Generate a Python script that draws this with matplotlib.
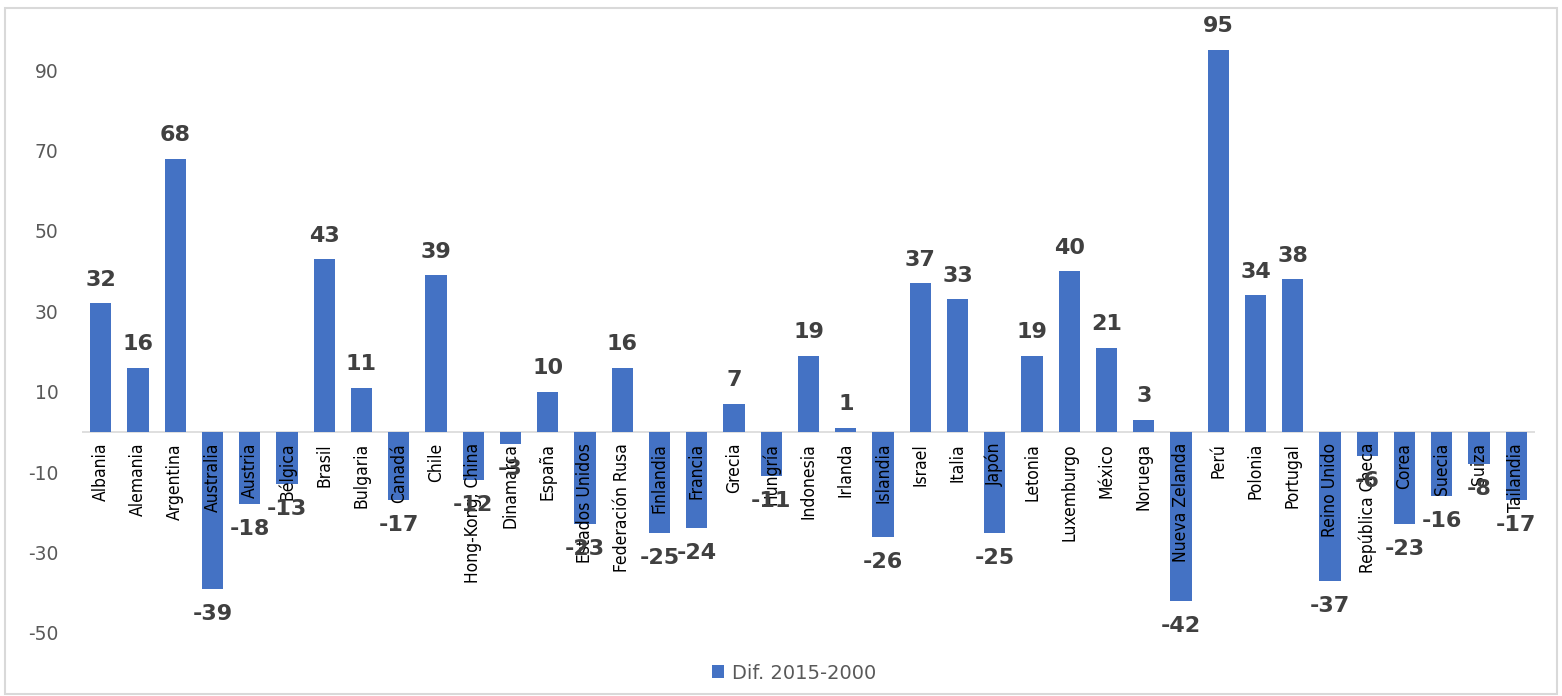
import matplotlib.pyplot as plt
import matplotlib.transforms as mtransforms
from matplotlib.patches import Rectangle
import numpy as np

paises = ['Albania', 'Alemania', 'Argentina', 'Australia', 'Austria', 'Bélgica',
          'Brasil', 'Bulgaria', 'Canadá', 'Chile', 'Hong-Kong, China', 'Dinamarca',
          'España', 'Estados Unidos', 'Federación Rusa', 'Finlandia', 'Francia',
          'Grecia', 'Hungría', 'Indonesia', 'Irlanda', 'Islandia', 'Israel', 'Italia',
          'Japón', 'Letonia', 'Luxemburgo', 'México', 'Noruega', 'Nueva Zelanda',
          'Perú', 'Polonia', 'Portugal', 'Reino Unido', 'República Checa', 'Corea',
          'Suecia', 'Suiza', 'Tailandia']
dif_2015_2000 = [32, 16, 68, -39, -18, -13, 43, 11, -17, 39, -12, -3, 10, -23, 16,
                 -25, -24, 7, -11, 19, 1, -26, 37, 33, -25, 19, 40, 21, 3, -42, 95,
                 34, 38, -37, -6, -23, -16, -8, -17]
y_ticks = [-50, -30, -10, 10, 30, 50, 70, 90]

BLUE = '#4472C4'
GRAY = '#595959'
DARK = '#404040'

fig = plt.figure(figsize=(15.62, 6.96), dpi=100)
ax = fig.add_axes([82 / 1562, 1 - 633 / 696, (1535 - 82) / 1562, (633 - 30) / 696])

x = np.arange(len(paises))
ax.bar(x, dif_2015_2000, width=0.57, color=BLUE, label='Dif. 2015-2000', zorder=2)
ax.axhline(0, color='#d9d9d9', lw=1.2, zorder=1)

ax.set_xlim(-0.5, len(paises) - 0.5)
ax.set_ylim(-50, 100)
ax.set_yticks(y_ticks)
ax.set_yticklabels([str(t) for t in y_ticks], color=GRAY, fontsize=13.5)
ax.tick_params(axis='y', length=0, pad=17)
ax.set_xticks([])
for s in ax.spines.values():
    s.set_visible(False)

# country names just under the zero line (condensed face)
off = mtransforms.offset_copy(ax.transData, fig=fig, x=0, y=-11, units='dots')
for xi, name in zip(x, paises):
    ax.text(xi, 0, name, rotation=90, ha='center', va='top', fontsize=12.5,
            family='DejaVu Sans', fontstretch='condensed', color='black',
            transform=off, zorder=3)

# value labels
for xi, v in zip(x, dif_2015_2000):
    dy = 17 if v >= 0 else -18
    ax.annotate(str(v), (xi, v), xytext=(0, dy), textcoords='offset points',
                ha='center', va='center', fontsize=16, fontweight='bold',
                color=DARK, zorder=4)

ax.legend(loc='upper center', bbox_to_anchor=(0.49, -0.022), frameon=False,
          fontsize=14, labelcolor=GRAY, handlelength=0.65, handleheight=0.65,
          handletextpad=0.4)

fig.patches.append(Rectangle((5 / 1562, 2 / 696), 1552 / 1562, 686 / 696,
                             transform=fig.transFigure, fill=False,
                             edgecolor='#d9d9d9', lw=1.5))

fig.savefig('out.png', dpi=100)
